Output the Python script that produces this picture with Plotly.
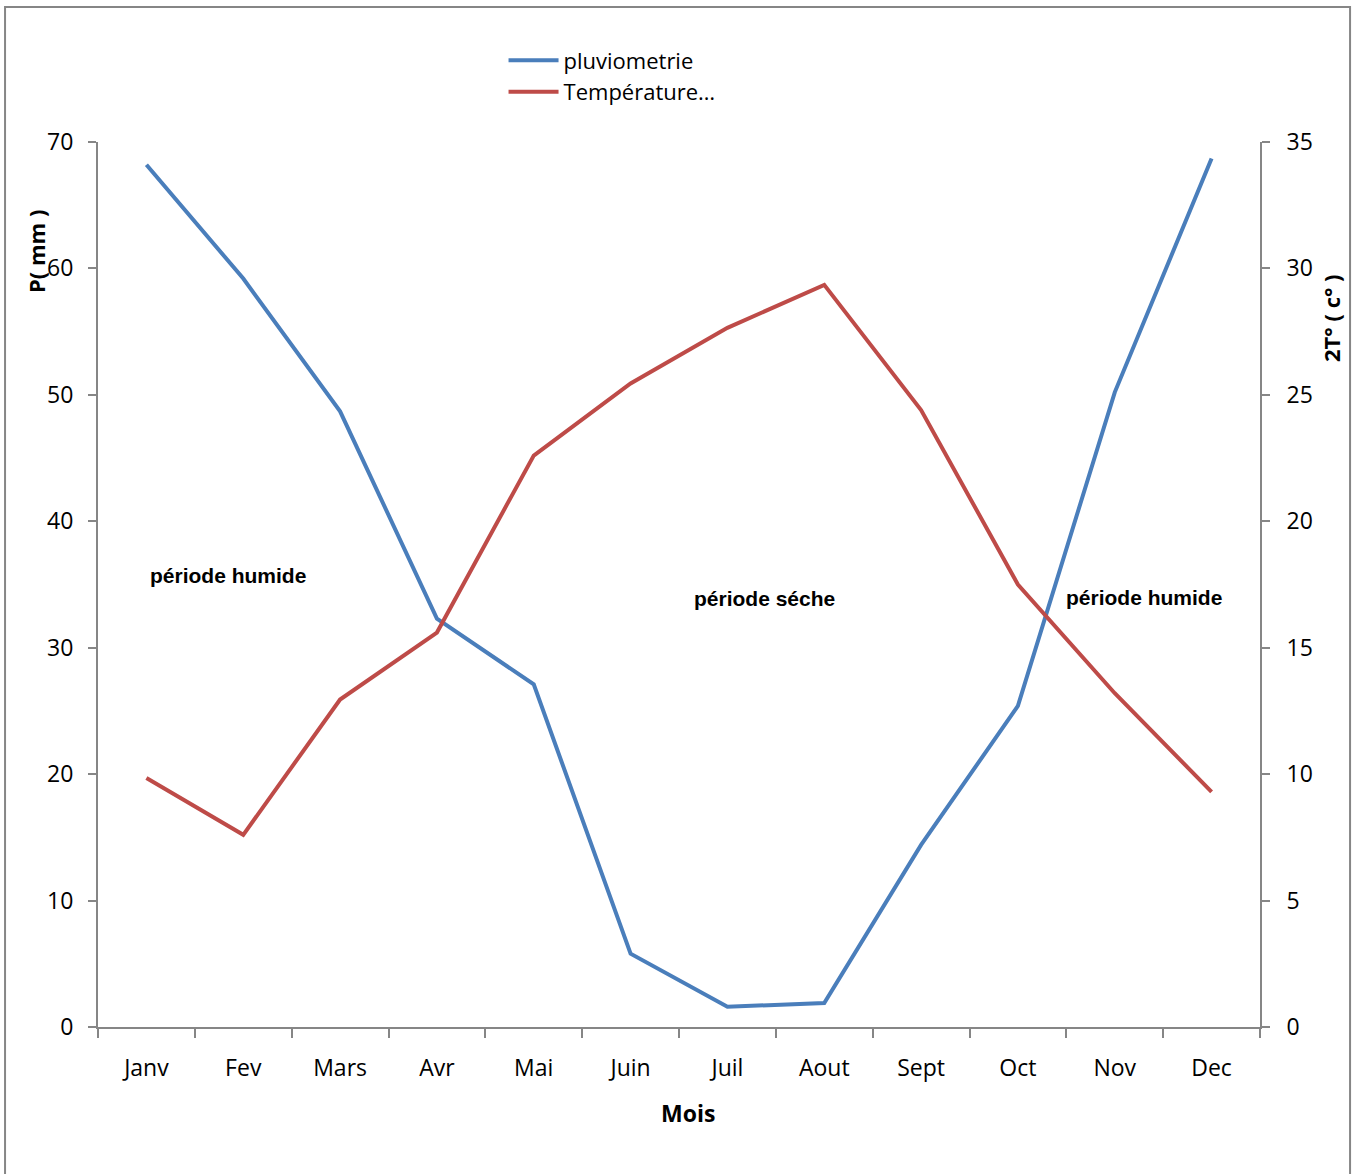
import plotly.graph_objects as go

# Monthly climate data
mois = ["Janv", "Fev", "Mars", "Avr", "Mai", "Juin", "Juil", "Aout", "Sept", "Oct", "Nov", "Dec"]
pluviometrie = [68.2, 59.2, 48.7, 32.3, 27.1, 5.8, 1.6, 1.9, 14.4, 25.4, 50.2, 68.7]
temperature_2t = [9.85, 7.6, 12.95, 15.6, 22.6, 25.45, 27.65, 29.35, 24.4, 17.5, 13.2, 9.3]

AXIS_GREY = "#868686"
FAMILY = "Open Sans, Noto Sans, sans-serif"
TICK_FONT = dict(family=FAMILY, size=23, color="#000000")
TITLE_FONT = dict(family=FAMILY, size=22, color="#000000")

fig = go.Figure()
fig.add_trace(go.Scatter(
    x=mois, y=pluviometrie, name="pluviometrie", mode="lines",
    line=dict(color="#4a7ebb", width=4), yaxis="y",
))
fig.add_trace(go.Scatter(
    x=mois, y=temperature_2t, name="Température…", mode="lines",
    line=dict(color="#be4b48", width=4), yaxis="y2",
))

fig.update_layout(
    width=1356, height=1174,
    margin=dict(l=98, r=96, t=142, b=147),
    paper_bgcolor="white", plot_bgcolor="white",
    showlegend=True,
    legend=dict(
        x=0.349, y=1.116, xanchor="left", yanchor="top",
        font=dict(family=FAMILY, size=22, color="#000000"),
        bgcolor="rgba(0,0,0,0)", itemwidth=50, tracegroupgap=0,
    ),
    xaxis=dict(
        type="category", tickson="boundaries", ticks="outside", ticklen=9,
        tickcolor=AXIS_GREY, tickwidth=1.5,
        showline=True, linecolor=AXIS_GREY, linewidth=2,
        showgrid=False, zeroline=False, tickfont=TICK_FONT, ticklabelstandoff=19,
        range=[-0.5, 11.5],
    ),
    yaxis=dict(
        range=[0, 70], dtick=10, ticks="outside", ticklen=8,
        tickcolor=AXIS_GREY, tickwidth=1.5,
        showline=True, linecolor=AXIS_GREY, linewidth=2,
        showgrid=False, zeroline=False, tickfont=TICK_FONT, ticklabelstandoff=10,
    ),
    yaxis2=dict(
        range=[0, 35], dtick=5, overlaying="y", side="right",
        ticks="outside", ticklen=8, tickcolor=AXIS_GREY, tickwidth=1.5,
        showline=True, linecolor=AXIS_GREY, linewidth=2,
        showgrid=False, zeroline=False, tickfont=TICK_FONT, ticklabelstandoff=12,
    ),
    # inner half of the crossing ticks on the right axis
    yaxis3=dict(
        range=[0, 35], dtick=5, overlaying="y", side="right",
        ticks="inside", ticklen=8, tickcolor=AXIS_GREY, tickwidth=1.5,
        showline=False, showgrid=False, zeroline=False, showticklabels=False,
    ),
)

# Axis titles
fig.add_annotation(xref="paper", yref="paper", x=-0.054, y=0.876, textangle=-90,
                   xanchor="center", yanchor="middle",
                   text="<b>P( mm )</b>", showarrow=False, font=TITLE_FONT)
fig.add_annotation(xref="paper", yref="paper", x=1.061, y=0.801, textangle=-90,
                   xanchor="center", yanchor="middle",
                   text="<b>2T° ( c° )</b>", showarrow=False, font=TITLE_FONT)
fig.add_annotation(xref="paper", yref="paper", x=0.508, y=-0.097,
                   xanchor="center", yanchor="middle",
                   text="<b>Mois</b>", showarrow=False,
                   font=dict(family=FAMILY, size=23, color="#000"))

# Outer chart frame
fig.add_shape(type="rect", xref="paper", yref="paper",
              x0=-0.080, x1=1.0775, y0=-0.18, y1=1.1525,
              line=dict(color=AXIS_GREY, width=2), layer="below")

ann_font = dict(family="Liberation Sans, Arial, sans-serif", size=21, color="#000")
periodes = [(0.015, 35.7, "période humide", "left"),
            (6.38, 33.9, "période séche", "center"),
            (10.3, 34.0, "période humide", "center")]
for mx, my, txt, anch in periodes:
    fig.add_annotation(x=mx, y=my, xref="x", yref="y", text=f"<b>{txt}</b>",
                       showarrow=False, font=ann_font, xanchor=anch)

fig.write_html("out.html")
